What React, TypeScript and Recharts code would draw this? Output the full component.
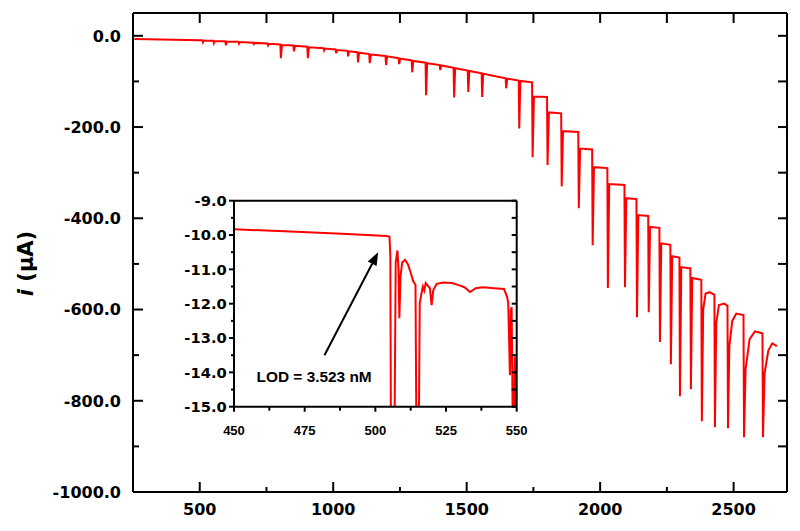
import React from "react"
import { Line, LineChart, ReferenceDot, ReferenceLine, XAxis, YAxis } from "recharts"

// amperometric trace, [time (s), current (µA)]
const rampTrace: [number, number][] = [
  [255, -7], [500, -10],
  [510, -10], [512, -14], [515, -10.5],
  [551, -11], [553, -16], [556, -11.5],
  [596, -12], [598, -21], [601, -12.5],
  [645, -13], [647, -17], [650, -13.5],
  [701, -15], [703, -18], [706, -15.5],
  [754, -17], [756, -21], [759, -17.5],
  [802, -19], [804, -49], [808, -20],
  [851, -21], [853, -34], [857, -22],
  [903, -24], [905, -49], [909, -25],
  [964, -27], [966, -32], [969, -28],
  [1009, -30], [1011, -38], [1014, -31],
  [1054, -33], [1056, -45], [1059, -34],
  [1091, -36], [1093, -58], [1097, -37],
  [1135, -40], [1137, -60], [1141, -41],
  [1196, -44], [1198, -64], [1202, -45],
  [1245, -49], [1247, -62], [1251, -50],
  [1294, -54], [1296, -80], [1300, -55],
  [1346, -59], [1348, -130], [1352, -60],
  [1399, -64], [1401, -75], [1405, -65],
  [1451, -70], [1453, -135], [1457, -71],
  [1504, -76], [1506, -123], [1510, -77],
  [1556, -82], [1558, -134], [1562, -83],
  [1646, -93], [1648, -115], [1652, -94],
  [1695, -98], [1697, -203], [1701, -99],
  [1745, -102],
]

const stepTrace: [number, number][] = [
  [1747, -266], [1752, -133], [1801, -134],
  [1803, -283], [1808, -168], [1854, -170],
  [1856, -330], [1861, -209], [1918, -211],
  [1920, -378], [1925, -247], [1970, -249],
  [1972, -459], [1977, -288], [2027, -290],
  [2029, -553], [2034, -325], [2091, -327],
  [2093, -551], [2098, -356], [2136, -358],
  [2138, -617], [2143, -393], [2180, -395],
  [2182, -606], [2187, -419], [2222, -421],
  [2224, -671], [2229, -455], [2263, -458],
  [2265, -720], [2270, -483], [2297, -486],
  [2299, -790], [2304, -507], [2338, -510],
  [2340, -775], [2345, -531], [2379, -535],
  [2381, -845], [2386, -600], [2395, -565], [2410, -562], [2428, -568],
  [2430, -858], [2435, -630], [2445, -590], [2465, -587], [2477, -592],
  [2479, -860], [2484, -680], [2495, -625], [2510, -609], [2537, -612],
  [2539, -880], [2545, -730], [2560, -665], [2580, -648], [2608, -652],
  [2610, -880], [2616, -740], [2630, -690], [2645, -674], [2662, -680],
]

// zoom on 450-550 s
const insetTrace: [number, number][] = [
  [450, -9.83], [470, -9.9], [490, -9.97], [504, -10.03], [505, -10.05],
  [505.3, -10.6], [505.5, -15.5], [506.8, -15.5], [507.2, -10.8], [507.8, -10.45],
  [508.2, -11], [508.5, -12.42], [508.9, -11.2], [509.5, -10.8], [510.5, -10.72],
  [511.5, -10.85], [512.5, -11.1], [513.4, -11.35], [514.2, -11.45], [514.5, -15.5],
  [515.4, -15.5], [515.7, -12], [516.2, -11.75], [516.8, -11.5], [517.3, -11.62],
  [517.8, -11.4], [519.3, -11.55], [519.9, -12.04], [520.5, -11.6], [521.7, -11.42],
  [524, -11.38], [527, -11.4], [529.5, -11.46], [531.5, -11.52], [533.5, -11.66],
  [535.5, -11.55], [538, -11.52], [542, -11.55], [545.5, -11.57], [546.6, -11.8],
  [547, -11.98], [547.6, -14.08], [547.9, -12.2], [548.2, -12.1], [548.6, -15.5],
  [549, -15.5], [549.3, -13.54], [549.7, -15.5], [550, -15.5],
]

const mainXTicks = [500, 750, 1000, 1250, 1500, 1750, 2000, 2250, 2500]
const mainXLabels = [500, 1000, 1500, 2000, 2500]
const mainYTicks = [0, -100, -200, -300, -400, -500, -600, -700, -800, -900, -1000]
const mainYLabels = [0, -200, -400, -600, -800, -1000]

const insetXTicks = [450, 462.5, 475, 487.5, 500, 512.5, 525, 537.5, 550]
const insetXLabels = [450, 475, 500, 525, 550]
const insetYTicks = [-9, -9.5, -10, -10.5, -11, -11.5, -12, -12.5, -13, -13.5, -14, -14.5, -15]
const insetYLabels = [-9, -10, -11, -12, -13, -14, -15]

const lodText = "LOD = 3.523 nM"
const lodArrow = [{ x: 482, y: -13.5 }, { x: 501, y: -10.5 }]
const lodLabelAt = { x: 458, y: -14.27 }

const mainData = [...rampTrace, ...stepTrace].map(([x, y]) => ({ x, y }))
const insetData = insetTrace.map(([x, y]) => ({ x, y }))

const RED = "#ff0000"
const frame = { stroke: "#000", strokeWidth: 2 }

type Side = "left" | "right" | "top" | "bottom"
interface TickStyle {
  labels?: number[]
  major: number // positive = inward
  minor: number
  gap?: number
  fontSize?: number
  fontFamily?: string
  format?: (v: number) => string
}

const axisTick = (side: Side, s: TickStyle) => (props: any) => {
  const { x, y, payload } = props
  const v = payload.value as number
  const isMajor = s.labels ? s.labels.includes(v) : true
  const len = isMajor ? s.major : s.minor
  let x2 = x
  let y2 = y
  if (side === "left") x2 = x + len
  if (side === "right") x2 = x - len
  if (side === "top") y2 = y + len
  if (side === "bottom") y2 = y - len
  const showLabel = s.labels && isMajor
  const text = s.format ? s.format(v) : String(v)
  return (
    <g>
      {len !== 0 && <line x1={x} y1={y} x2={x2} y2={y2} stroke="#000" strokeWidth={2} />}
      {showLabel && side === "left" && (
        <text x={x - (s.gap ?? 10)} y={y} dy="0.36em" textAnchor="end" fontSize={s.fontSize}
          fontFamily={s.fontFamily} fontWeight="bold" fill="#000">{text}</text>
      )}
      {showLabel && side === "bottom" && (
        <text x={x} y={y + (s.gap ?? 16)} dy="0.36em" textAnchor="middle" fontSize={s.fontSize}
          fontFamily={s.fontFamily} fontWeight="bold" fill="#000">{text}</text>
      )}
    </g>
  )
}

const fmt1 = (v: number) => v.toFixed(1)

const YTitle = ({ viewBox }: any) => {
  const cx = viewBox.x + 25
  const cy = viewBox.y + viewBox.height / 2 + 11
  return (
    <text x={cx} y={cy} transform={`rotate(-90, ${cx}, ${cy})`} textAnchor="middle" dy="0.36em"
      fontFamily="DejaVu Sans" fontWeight="bold" fontSize={21} fill="#000">
      <tspan fontStyle="italic">i</tspan> (μA)
    </text>
  )
}

const Arrow = (props: any) => {
  const { x1, y1, x2, y2 } = props
  const a = Math.atan2(y2 - y1, x2 - x1)
  const L = 13
  const W = 5
  const bx = x2 - L * Math.cos(a)
  const by = y2 - L * Math.sin(a)
  const nx = -Math.sin(a) * W
  const ny = Math.cos(a) * W
  return (
    <g>
      <line x1={x1} y1={y1} x2={bx} y2={by} stroke="#000" strokeWidth={2} />
      <polygon points={`${x2},${y2} ${bx + nx},${by + ny} ${bx - nx},${by - ny}`} fill="#000" />
    </g>
  )
}

const LodLabel = (props: any) => (
  <text x={props.cx} y={props.cy} textAnchor="start" fontFamily="Liberation Sans, Arial"
    fontWeight="bold" fontSize={15.4} fill="#000">{lodText}</text>
)

function Inset() {
  return (
    <LineChart width={380} height={250} data={insetData} margin={{ top: 9.7, right: 12.3, bottom: 0, left: 0 }}>
      <XAxis xAxisId="b" dataKey="x" type="number" domain={[450, 550]} allowDataOverflow ticks={insetXTicks}
        interval={0} height={33.3} tickSize={0} tickMargin={0} tickLine={false} axisLine={frame}
        tick={axisTick("bottom", { labels: insetXLabels, major: -5, minor: -4, gap: 23.3, fontSize: 13, fontFamily: "Liberation Sans, Arial" })} />
      <XAxis xAxisId="t" orientation="top" dataKey="x" type="number" domain={[450, 550]} allowDataOverflow
        ticks={insetXTicks} interval={0} height={1} tickSize={0} tickMargin={0} tickLine={false} axisLine={frame}
        tick={axisTick("top", { major: 0, minor: 0 })} />
      <YAxis yAxisId="l" type="number" domain={[-15, -9]} allowDataOverflow ticks={insetYTicks} interval={0}
        width={84} tickSize={0} tickMargin={0} tickLine={false} axisLine={frame}
        tick={axisTick("left", { labels: insetYLabels, major: -5, minor: -3, gap: 7.3, fontSize: 14.7, fontFamily: "DejaVu Sans", format: fmt1 })} />
      <YAxis yAxisId="r" orientation="right" type="number" domain={[-15, -9]} allowDataOverflow ticks={insetYTicks}
        interval={0} width={1} tickSize={0} tickMargin={0} tickLine={false} axisLine={frame}
        tick={axisTick("right", { major: 5, minor: 5 })} />
      <Line xAxisId="b" yAxisId="l" type="linear" dataKey="y" stroke={RED} strokeWidth={2} dot={false}
        isAnimationActive={false} />
      <ReferenceLine xAxisId="b" yAxisId="l" segment={lodArrow} shape={Arrow} ifOverflow="visible" />
      <ReferenceDot xAxisId="b" yAxisId="l" x={lodLabelAt.x} y={lodLabelAt.y} r={0} shape={LodLabel} ifOverflow="visible" />
    </LineChart>
  )
}

export default function App() {
  return (
    <div style={{ position: "absolute", left: 0, top: 0, width: 800, height: 531, background: "#fff" }}>
      <LineChart width={800} height={531} data={mainData} margin={{ top: 12, right: 12, bottom: 0, left: 0 }}>
        <XAxis xAxisId="b" dataKey="x" type="number" domain={[250, 2700]} allowDataOverflow ticks={mainXTicks}
          interval={0} height={39} tickSize={0} tickMargin={0} tickLine={false} axisLine={frame}
          tick={axisTick("bottom", { labels: mainXLabels, major: 10, minor: 5, gap: 17, fontSize: 16, fontFamily: "DejaVu Sans" })} />
        <XAxis xAxisId="t" orientation="top" dataKey="x" type="number" domain={[250, 2700]} allowDataOverflow
          ticks={mainXTicks} interval={0} height={1} tickSize={0} tickMargin={0} tickLine={false} axisLine={frame}
          tick={axisTick("top", { major: 10, minor: 10 })} />
        <YAxis yAxisId="l" type="number" domain={[-1000, 50]} allowDataOverflow ticks={mainYTicks} interval={0}
          width={133} tickSize={0} tickMargin={0} tickLine={false} axisLine={frame}
          tick={axisTick("left", { labels: mainYLabels, major: 10, minor: 6, gap: 12, fontSize: 16, fontFamily: "DejaVu Sans", format: fmt1 })}
          label={{ content: YTitle }} />
        <YAxis yAxisId="r" orientation="right" type="number" domain={[-1000, 50]} allowDataOverflow ticks={mainYTicks}
          interval={0} width={1} tickSize={0} tickMargin={0} tickLine={false} axisLine={frame}
          tick={axisTick("right", { major: 9, minor: 9 })} />
        <Line xAxisId="b" yAxisId="l" type="linear" dataKey="y" stroke={RED} strokeWidth={2} dot={false}
          isAnimationActive={false} />
      </LineChart>
      <div style={{ position: "absolute", left: 150, top: 190 }}>
        <Inset />
      </div>
    </div>
  )
}
